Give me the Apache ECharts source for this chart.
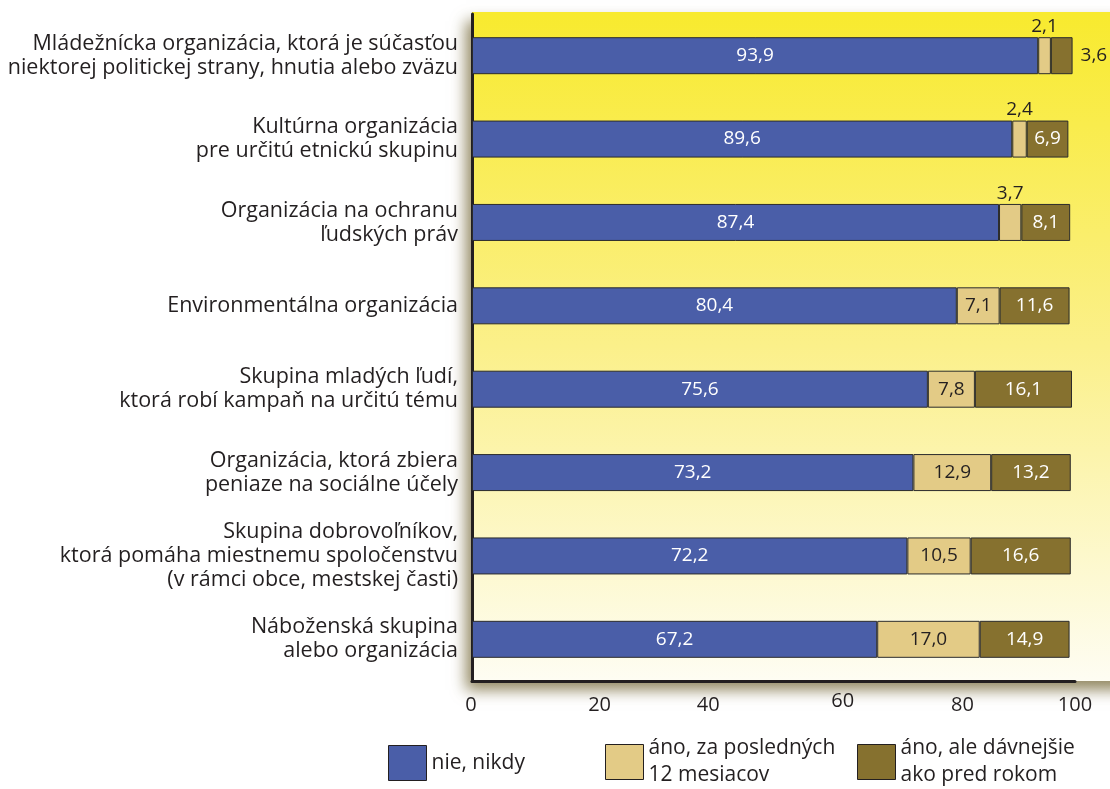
<!DOCTYPE html>
<html lang="sk">
<head>
    <meta charset="UTF-8">
    <title>Účasť v organizáciách</title>
    <script src="https://cdn.jsdelivr.net/npm/echarts@6/dist/echarts.min.js"></script>
    <style>
        html, body{
            margin: 0;
            padding: 0;
            background: #fff;
        }
        #chart{
            width: 1110px;
            height: 789px;
        }
    </style>
</head>
<body>
<div id="chart"></div>
<script>
    var categories = [
        'Mládežnícka organizácia, ktorá je súčasťou\nniektorej politickej strany, hnutia alebo zväzu',
        'Kultúrna organizácia\npre určitú etnickú skupinu',
        'Organizácia na ochranu\nľudských práv',
        'Environmentálna organizácia',
        'Skupina mladých ľudí,\nktorá robí kampaň na určitú tému',
        'Organizácia, ktorá zbiera\npeniaze na sociálne účely',
        'Skupina dobrovoľníkov,\nktorá pomáha miestnemu spoločenstvu\n(v rámci obce, mestskej časti)',
        'Náboženská skupina\nalebo organizácia'
    ];
    var never = [93.9, 89.6, 87.4, 80.4, 75.6, 73.2, 72.2, 67.2];
    var lastYear = [2.1, 2.4, 3.7, 7.1, 7.8, 12.9, 10.5, 17.0];
    var earlier = [3.6, 6.9, 8.1, 11.6, 16.1, 13.2, 16.6, 14.9];
    var seriesNames = ['nie, nikdy', 'áno, za posledných\n12 mesiacov', 'áno, ale dávnejšie\nako pred rokom'];
    var xTicks = [0, 20, 40, 60, 80, 100];

    var font = '"Open Sans", "Noto Sans", sans-serif';
    var ink = '#231F20';

    function fmt(v){
        return v.toFixed(1).replace('.', ',');
    }

    // small segments get their label outside the bar
    function items(values, outside){
        return values.map(function(v, i){
            var o = {value: v};
            if (outside[i]) o.label = outside[i];
            return o;
        });
    }

    function legendAt(name, left, top){
        return {
            data: [name], left: left, top: top, padding: 0,
            itemWidth: 38, itemHeight: 35, itemGap: 0,
            icon: 'rect', selectedMode: false,
            itemStyle: {borderColor: ink, borderWidth: 1},
            textStyle: {fontSize: 21, color: ink, lineHeight: 27, fontFamily: font}
        };
    }

    var chart = echarts.init(document.getElementById('chart'));

    var barLabel = {
        show: true,
        position: 'inside',
        fontFamily: font,
        fontSize: 19,
        formatter: function(p){ return fmt(p.value); }
    };

    chart.setOption({
        animation: false,
        textStyle: {fontFamily: font},
        graphic: [{
            type: 'rect',
            z: -1,
            shape: {x: 472, y: 12, width: 660, height: 669},
            style: {
                fill: new echarts.graphic.LinearGradient(0, 0, 0, 1, [
                    {offset: 0, color: '#F8EA2E'},
                    {offset: 0.5, color: '#FBF08A'},
                    {offset: 1, color: '#FEFDF3'}
                ]),
                shadowBlur: 14,
                shadowOffsetX: -6,
                shadowOffsetY: 9,
                shadowColor: 'rgba(100,85,30,0.7)'
            }
        }],
        grid: {left: 472, top: 14, width: 603, height: 667},
        xAxis: {
            type: 'value',
            min: 0,
            max: 100,
            interval: 20,
            axisLine: {show: true, lineStyle: {color: ink, width: 3}},
            axisTick: {show: false},
            splitLine: {show: false},
            axisLabel: {
                margin: 10,
                color: ink,
                fontSize: 20,
                formatter: function(v){
                    var k = xTicks.indexOf(v);
                    return '{t' + k + '|' + v + '}';
                },
                rich: {
                    t0: {padding: [4, 2, 0, 0], fontSize: 20, color: ink},
                    t1: {padding: [4, 0, 0, 14], fontSize: 20, color: ink},
                    t2: {padding: [4, 10, 0, 0], fontSize: 20, color: ink},
                    t3: {padding: [0, 0, 0, 18], fontSize: 20, color: ink},
                    t4: {padding: [4, 0, 0, 16], fontSize: 20, color: ink},
                    t5: {padding: [4, 0, 0, 0], fontSize: 20, color: ink}
                }
            }
        },
        yAxis: {
            type: 'category',
            inverse: true,
            data: categories,
            axisLine: {show: true, lineStyle: {color: ink, width: 3}},
            axisTick: {show: false},
            axisLabel: {
                margin: 14,
                color: ink,
                fontSize: 21.5,
                lineHeight: 24,
                align: 'right'
            }
        },
        legend: [
            legendAt(seriesNames[0], 388, 745),
            legendAt(seriesNames[1], 605, 735),
            legendAt(seriesNames[2], 857, 735)
        ],
        series: [
            {
                type: 'bar', stack: 'all', barWidth: 37,
                name: seriesNames[0],
                data: never,
                itemStyle: {color: '#4A5EA8', borderColor: '#2b2b2b', borderWidth: 1},
                label: Object.assign({}, barLabel, {color: '#fff'})
            },
            {
                type: 'bar', stack: 'all', barWidth: 37,
                name: seriesNames[1],
                data: items(lastYear, {
                    0: {position: 'top', distance: 1, color: ink},
                    1: {position: 'top', distance: 1, color: ink},
                    2: {position: 'top', distance: 1, color: ink}
                }),
                itemStyle: {color: '#E3CB86', borderColor: '#2b2b2b', borderWidth: 1},
                label: Object.assign({}, barLabel, {color: ink})
            },
            {
                type: 'bar', stack: 'all', barWidth: 37,
                name: seriesNames[2],
                data: items(earlier, {
                    0: {position: 'right', distance: 8, color: ink}
                }),
                itemStyle: {color: '#86712F', borderColor: '#2b2b2b', borderWidth: 1},
                label: Object.assign({}, barLabel, {color: '#fff'})
            }
        ]
    });
</script>
</body>
</html>
